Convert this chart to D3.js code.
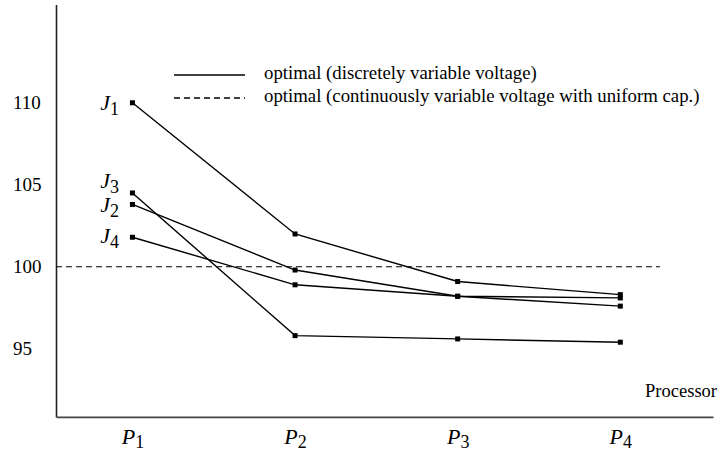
<!DOCTYPE html>
<html>
<head>
<meta charset="utf-8">
<script src="https://cdn.jsdelivr.net/npm/d3@7"></script>
<style>
  body { margin: 0; background: #fff; }
  svg text { font-family: "Liberation Serif", "Times New Roman", Times, "DejaVu Serif", serif; fill: #000; }
</style>
</head>
<body>
<script>
// data
var processors = ["1", "2", "3", "4"];
var jobs = ["1", "2", "3", "4"];
var j1 = [110.0, 102.0, 99.1, 98.3];
var j2 = [103.8, 99.8, 98.2, 97.6];
var j3 = [104.5, 95.8, 95.6, 95.4];
var j4 = [101.8, 98.9, 98.2, 98.1];
var reference = 100;
var yTicks = [95, 100, 105, 110];
var legendLabels = ["optimal (discretely variable voltage)",
                    "optimal (continuously variable voltage with uniform cap.)"];

var series = [j1, j2, j3, j4];

var chartWidth = 720;
var chartHeight = 452;

var svg = d3.select("body")
            .append("svg")
            .attr("width", chartWidth)
            .attr("height", chartHeight);

var xScale = d3.scaleLinear()
               .domain([-0.47, 3.57])
               .range([56, 713]);

var yScale = d3.scaleLinear()
               .domain([90.85, 116])
               .range([416.8, 4.4]);

// y axis
var yAxis = svg.append("g")
               .attr("transform", "translate(56,0)")
               .call(d3.axisLeft(yScale).tickValues(yTicks).tickSize(0).tickSizeOuter(0));
yAxis.attr("font-family", null);
yAxis.select(".domain").attr("stroke", "#222").attr("stroke-width", 1.6);
yAxis.selectAll("text")
     .attr("x", -43)
     .attr("text-anchor", "start")
     .style("font-size", "19px");

// x axis
var xAxis = svg.append("g")
               .attr("transform", "translate(0,416.8)")
               .call(d3.axisBottom(xScale).tickValues(d3.range(processors.length)).tickSize(0).tickSizeOuter(0));
xAxis.attr("font-family", null);
xAxis.select(".domain").attr("stroke", "#444").attr("stroke-width", 1.8);
xAxis.selectAll("text").each(function(d) {
  var t = d3.select(this).text(null)
            .attr("y", 27)
            .attr("dy", null);
  t.append("tspan").style("font-style", "italic").style("font-size", "22px").text("P");
  t.append("tspan").attr("dy", 4).style("font-size", "18px").text(processors[d]);
});

svg.append("text")
   .attr("x", 717)
   .attr("y", 397)
   .attr("text-anchor", "end")
   .style("font-size", "18.5px")
   .text("Processor");

// reference level
svg.append("line")
   .attr("x1", xScale(-0.47))
   .attr("x2", 660)
   .attr("y1", yScale(reference))
   .attr("y2", yScale(reference))
   .attr("stroke", "#000")
   .attr("stroke-width", 1.2)
   .attr("stroke-dasharray", "6,4");

// series
var line = d3.line()
             .x(function(d, i) { return xScale(i); })
             .y(function(d) { return yScale(d); });

svg.selectAll(".series")
   .data(series)
   .enter()
   .append("path")
   .attr("class", "series")
   .attr("d", line)
   .attr("fill", "none")
   .attr("stroke", "#000")
   .attr("stroke-width", 1.4);

series.forEach(function(s) {
  svg.selectAll(null)
     .data(s)
     .enter()
     .append("rect")
     .attr("x", function(d, i) { return xScale(i) - 2.5; })
     .attr("y", function(d) { return yScale(d) - 2.5; })
     .attr("width", 5)
     .attr("height", 5)
     .attr("fill", "#000");
});

// job labels next to P1 (J3 nudged up so it clears J2)
var labelShift = [7, 8, -5, 6];
jobs.forEach(function(j, k) {
  var t = svg.append("text")
             .attr("x", 119)
             .attr("y", yScale(series[k][0]) + labelShift[k])
             .attr("text-anchor", "end");
  t.append("tspan").style("font-style", "italic").style("font-size", "22px").text("J");
  t.append("tspan").attr("dy", 5).style("font-size", "18px").text(j);
});

// legend
var legend = svg.append("g");
legendLabels.forEach(function(label, k) {
  var ly = 75 + k * 23;
  legend.append("line")
        .attr("x1", 174)
        .attr("x2", 245)
        .attr("y1", ly)
        .attr("y2", ly)
        .attr("stroke", "#000")
        .attr("stroke-width", 1.3)
        .attr("stroke-dasharray", k === 1 ? "6,4" : null);
  legend.append("text")
        .attr("x", 264)
        .attr("y", ly + 4)
        .style("font-size", "18.8px")
        .text(label);
});
</script>
</body>
</html>
